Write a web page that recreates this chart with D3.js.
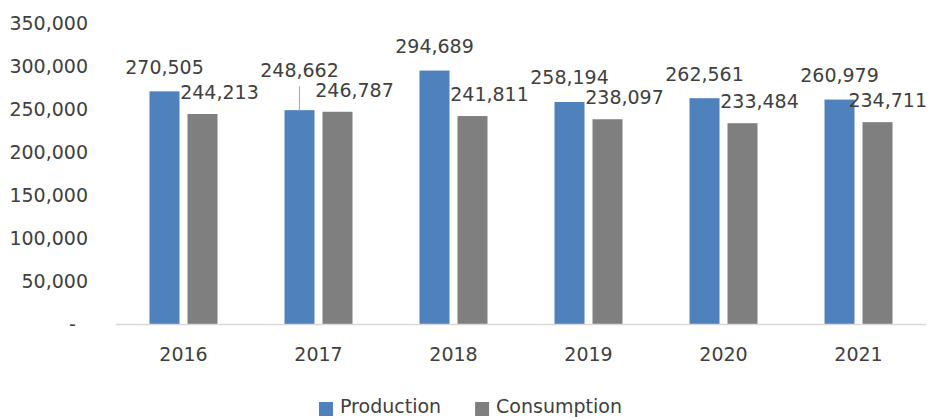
<!DOCTYPE html>
<html>
<head>
<meta charset="utf-8">
<script src="https://cdn.jsdelivr.net/npm/d3@7"></script>
<style>
  body { margin: 0; background: #fff; }
  svg text { font-family: "DejaVu Sans", sans-serif; fill: #404040; }
</style>
</head>
<body>
<div id="chart"></div>
<script>
const years = ['2016', '2017', '2018', '2019', '2020', '2021'];
const seriesNames = ['Production', 'Consumption'];
const production = [270505, 248662, 294689, 258194, 262561, 260979];
const consumption = [244213, 246787, 241811, 238097, 233484, 234711];
const yTicks = [0, 50000, 100000, 150000, 200000, 250000, 300000, 350000];

const width = 930;
const height = 417;
const margin = { top: 23, right: 4, bottom: 93, left: 116 };
const colors = { Production: '#4F81BD', Consumption: '#7F7F7F' };
// label that was dragged up with a leader line in the original
const liftedLabel = { series: 'Production', year: '2017' };

const svg = d3.select('#chart').append('svg')
    .attr('width', width)
    .attr('height', height);

const x0 = d3.scaleBand()
    .domain(years)
    .range([margin.left, width - margin.right])
    .paddingInner(0.4963)
    .paddingOuter(0.2481);

const x1 = d3.scaleBand()
    .domain(seriesNames)
    .range([0, x0.bandwidth()])
    .paddingInner(8 / 38);

const y = d3.scaleLinear()
    .domain([0, 350000])
    .range([height - margin.bottom, margin.top]);

const fmt = d3.format(',');

// y labels (no axis line, accounting style dash for zero)
svg.append('g')
    .selectAll('text')
    .data(yTicks)
    .join('text')
    .attr('x', 88)
    .attr('y', d => y(d))
    .attr('dy', '0.35em')
    .attr('text-anchor', 'end')
    .style('font-size', '19px')
    .text(d => d === 0 ? '-\u00a0\u00a0' : fmt(d));

// bars
const rows = years.map((year, i) => ({ year, values: [
    { series: 'Production', value: production[i] },
    { series: 'Consumption', value: consumption[i] }
] }));

const groups = svg.append('g')
    .selectAll('g')
    .data(rows)
    .join('g')
    .attr('transform', d => `translate(${x0(d.year)},0)`);

groups.selectAll('rect')
    .data(d => d.values)
    .join('rect')
    .attr('x', d => x1(d.series))
    .attr('y', d => y(d.value))
    .attr('width', x1.bandwidth())
    .attr('height', d => y(0) - y(d.value))
    .attr('fill', d => colors[d.series]);

// x axis line
svg.append('line')
    .attr('x1', margin.left)
    .attr('x2', width - margin.right)
    .attr('y1', y(0) + 0.5)
    .attr('y2', y(0) + 0.5)
    .attr('stroke', '#D9D9D9')
    .attr('stroke-width', 1.5);

// x labels
svg.append('g')
    .selectAll('text')
    .data(years)
    .join('text')
    .attr('x', d => x0(d) + x0.bandwidth() / 2)
    .attr('y', 361)
    .attr('text-anchor', 'middle')
    .style('font-size', '19px')
    .text(d => d);

// data labels
groups.each(function(row) {
    const g = d3.select(this);
    const gx = x0(row.year);
    row.values.forEach(d => {
        const cx = x1(d.series) + x1.bandwidth() / 2;
        const top = y(d.value);
        const lifted = d.series === liftedLabel.series && row.year === liftedLabel.year;
        let ly = d.series === 'Production' ? top - 17.5 : top - 15;
        let lx = d.series === 'Production' ? cx : cx + 17;
        if (lifted) {
            ly -= 15.5;
            g.append('line')
                .attr('x1', cx)
                .attr('x2', cx)
                .attr('y1', top)
                .attr('y2', ly + 9)
                .attr('stroke', '#A6A6A6')
                .attr('stroke-width', 1);
        }
        const t = g.append('text')
            .attr('x', lx)
            .attr('y', ly)
            .attr('text-anchor', 'middle')
            .style('font-size', '19px')
            .text(fmt(d.value));
        // keep labels inside the picture
        const half = t.node().getComputedTextLength() / 2;
        const over = gx + lx + half - (width - 3);
        if (over > 0) t.attr('x', lx - over);
    });
});

// legend
const legend = svg.append('g');
let lx = 319;
seriesNames.forEach(name => {
    legend.append('rect')
        .attr('x', lx)
        .attr('y', 402)
        .attr('width', 14)
        .attr('height', 14)
        .attr('fill', colors[name]);
    const t = legend.append('text')
        .attr('x', lx + 21)
        .attr('y', 413)
        .style('font-size', '19px')
        .text(name);
    lx += 21 + t.node().getComputedTextLength() + 34;
});
</script>
</body>
</html>
